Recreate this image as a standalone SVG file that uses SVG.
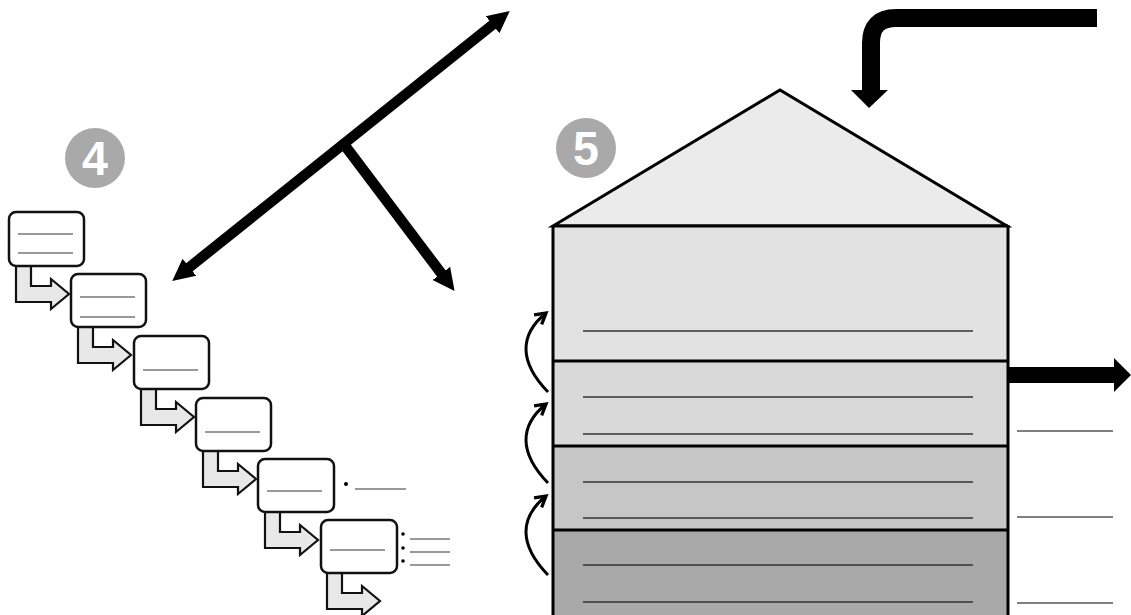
<svg xmlns="http://www.w3.org/2000/svg" width="1131" height="615" viewBox="0 0 1131 615">
<defs>
<style>
.box{fill:#fff;stroke:#111;stroke-width:2.5}
.bl{stroke:#777;stroke-width:1.5}
.elbow{fill:#e8e8e8;stroke:#111;stroke-width:2.2;stroke-linejoin:miter}
.thick{fill:none;stroke:#000;stroke-width:10.5}
.sec{stroke:#000;stroke-width:3}
.sl{stroke:#333;stroke-width:1.6}
.rl{stroke:#555;stroke-width:1.4}
.curve{fill:none;stroke:#000;stroke-width:3;marker-end:url(#open)}
.num{font-family:"Liberation Sans",Arial,sans-serif;font-weight:bold;font-size:49px;fill:#fff;text-anchor:middle}
</style>
<marker id="solid" viewBox="0 0 10 10" refX="2" refY="5" markerWidth="22" markerHeight="24" markerUnits="userSpaceOnUse" orient="auto-start-reverse">
<path d="M0,0 L10,5 L0,10 z" fill="#000"/>
</marker>
<marker id="open" viewBox="0 0 10 10" refX="8" refY="5" markerWidth="15" markerHeight="15" markerUnits="userSpaceOnUse" orient="auto">
<path d="M1,1 L8,5 L1,9" fill="none" stroke="#000" stroke-width="2.2"/>
</marker>
</defs>
<rect width="1131" height="615" fill="#fff"/>

<g id="badge4">
<circle cx="95" cy="158" r="30" fill="#a9a9a9"/>
<text class="num" x="95" y="175" transform="translate(95 0) scale(0.95 1) translate(-95 0)">4</text>
</g>
<g id="badge5">
<circle cx="586" cy="148" r="30" fill="#a9a9a9"/>
<text class="num" x="586" y="165" transform="translate(586 0) scale(0.95 1) translate(-586 0)">5</text>
</g>

<g id="connectors">
<path class="thick" d="M186,270 L496,22" marker-start="url(#solid)" marker-end="url(#solid)"/>
<path class="thick" d="M343,143 L444,277" marker-end="url(#solid)"/>
<path d="M1097,18 L896,18 Q871,18 871,43 L871,92" fill="none" stroke="#000" stroke-width="18"/>
<polygon points="851,90 888,90 869,108" fill="#000"/>
<polygon points="1008,367 1114,367 1114,358 1131,375 1114,392 1114,383 1008,383" fill="#000"/>
<path class="curve" d="M548,392 C519,362 519,335 546,313"/>
<path class="curve" d="M548,483 C519,453 519,426 546,404"/>
<path class="curve" d="M548,575 C519,545 519,518 546,496"/>
</g>

<g id="steps">
<g id="step1">
<path class="elbow" d="M16,266 L31,266 L31,286 L51,286 L51,279 L69,294 L51,309 L51,302 L16,302 Z"/>
<rect class="box" x="9" y="212" width="75" height="54" rx="7"/>
<line class="bl" x1="18" y1="234" x2="73" y2="234"/><line class="bl" x1="18" y1="253" x2="73" y2="253"/>
</g>
<g id="step2">
<path class="elbow" d="M78,327 L93,327 L93,347 L113,347 L113,340 L131,355 L113,370 L113,363 L78,363 Z"/>
<rect class="box" x="71" y="274" width="75" height="53" rx="7"/>
<line class="bl" x1="80" y1="297" x2="135" y2="297"/><line class="bl" x1="80" y1="317" x2="135" y2="317"/>
</g>
<g id="step3">
<path class="elbow" d="M141,389 L156,389 L156,409 L176,409 L176,402 L194,417 L176,432 L176,425 L141,425 Z"/>
<rect class="box" x="134" y="336" width="75" height="53" rx="7"/>
<line class="bl" x1="143" y1="370" x2="198" y2="370"/>
</g>
<g id="step4">
<path class="elbow" d="M203,451 L218,451 L218,471 L238,471 L238,464 L256,479 L238,494 L238,487 L203,487 Z"/>
<rect class="box" x="196" y="398" width="75" height="53" rx="7"/>
<line class="bl" x1="205" y1="432" x2="260" y2="432"/>
</g>
<g id="step5">
<path class="elbow" d="M265,512 L280,512 L280,532 L300,532 L300,525 L318,540 L300,555 L300,548 L265,548 Z"/>
<rect class="box" x="258" y="459" width="76" height="53" rx="7"/>
<line class="bl" x1="267" y1="491" x2="322" y2="491"/>
<circle cx="346" cy="484" r="2" fill="#000"/>
<line class="bl" x1="355" y1="489" x2="406" y2="489"/>
</g>
<g id="step6">
<path class="elbow" d="M327,573 L342,573 L342,593 L362,593 L362,586 L380,601 L362,616 L362,609 L327,609 Z"/>
<rect class="box" x="321" y="520" width="76" height="53" rx="7"/>
<line class="bl" x1="330" y1="550" x2="385" y2="550"/>
<circle cx="403" cy="534" r="1.8" fill="#000"/><circle cx="403" cy="548" r="1.8" fill="#000"/><circle cx="403" cy="561" r="1.8" fill="#000"/>
<line class="bl" x1="410" y1="539" x2="450" y2="539"/><line class="bl" x1="410" y1="552" x2="450" y2="552"/><line class="bl" x1="410" y1="565" x2="450" y2="565"/>
</g>
</g>

<g id="silo">
<polygon points="553,226 780,90 1007,226" fill="#ebebeb" stroke="#000" stroke-width="3" stroke-linejoin="miter"/>
<rect x="553" y="226" width="455" height="135" fill="#e2e2e2"/>
<rect x="553" y="361" width="455" height="85" fill="#d9d9d9"/>
<rect x="553" y="446" width="455" height="84" fill="#c6c6c6"/>
<rect x="553" y="530" width="455" height="90" fill="#a9a9a9"/>
<line class="sec" x1="553" y1="226" x2="1008" y2="226"/>
<line class="sec" x1="553" y1="361" x2="1008" y2="361"/>
<line class="sec" x1="553" y1="446" x2="1008" y2="446"/>
<line class="sec" x1="553" y1="530" x2="1008" y2="530"/>
<line class="sec" x1="553" y1="225" x2="553" y2="615"/>
<line class="sec" x1="1008" y1="225" x2="1008" y2="615"/>
<line class="sl" x1="583" y1="331" x2="973" y2="331"/>
<line class="sl" x1="583" y1="397" x2="973" y2="397"/>
<line class="sl" x1="583" y1="434" x2="973" y2="434"/>
<line class="sl" x1="583" y1="482" x2="973" y2="482"/>
<line class="sl" x1="583" y1="518" x2="973" y2="518"/>
<line class="sl" x1="583" y1="565" x2="973" y2="565"/>
<line class="sl" x1="583" y1="602" x2="973" y2="602"/>
</g>

<g id="side-lines">
<line class="rl" x1="1017" y1="431" x2="1113" y2="431"/>
<line class="rl" x1="1017" y1="517" x2="1113" y2="517"/>
<line class="rl" x1="1017" y1="603" x2="1113" y2="603"/>
</g>
</svg>
